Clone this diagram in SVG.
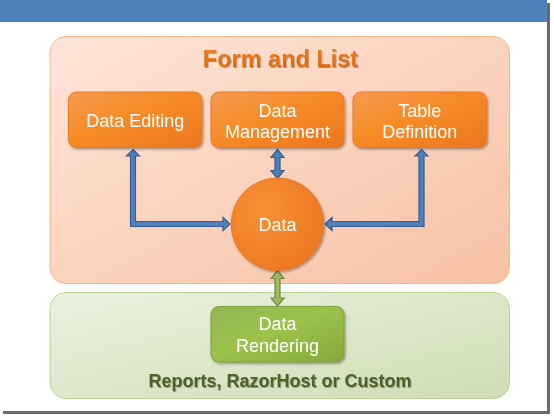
<svg xmlns="http://www.w3.org/2000/svg" width="554" height="416" viewBox="0 0 554 416">
<defs>
<linearGradient id="gPanelO" x1="0" y1="0" x2="1" y2="1">
<stop offset="0" stop-color="#FEE5D8"/>
<stop offset="1" stop-color="#F7C1A4"/>
</linearGradient>
<linearGradient id="gPanelG" x1="0" y1="0" x2="1" y2="1">
<stop offset="0" stop-color="#EAF2DF"/>
<stop offset="1" stop-color="#CEDDB4"/>
</linearGradient>
<linearGradient id="gBoxO" x1="0" y1="0" x2="1" y2="1">
<stop offset="0" stop-color="#F59A4E"/>
<stop offset="0.45" stop-color="#F68B26"/>
<stop offset="1" stop-color="#EC7620"/>
</linearGradient>
<linearGradient id="gBoxG" x1="0" y1="0" x2="1" y2="1">
<stop offset="0" stop-color="#93B655"/>
<stop offset="0.45" stop-color="#9BC24A"/>
<stop offset="1" stop-color="#86A93C"/>
</linearGradient>
<radialGradient id="gCircle" cx="0.35" cy="0.35" r="0.75">
<stop offset="0" stop-color="#F79137"/>
<stop offset="1" stop-color="#EC7620"/>
</radialGradient>
<linearGradient id="gTitle" x1="0" y1="0" x2="0" y2="1">
<stop offset="0" stop-color="#EE7F1E"/>
<stop offset="1" stop-color="#D8670C"/>
</linearGradient>
<filter id="fShadow" x="-10%" y="-10%" width="130%" height="130%">
<feDropShadow dx="1.2" dy="1.5" stdDeviation="1.2" flood-color="#000" flood-opacity="0.35"/>
</filter>
<filter id="fText" x="-5%" y="-20%" width="110%" height="150%">
<feDropShadow dx="0.8" dy="1" stdDeviation="0.6" flood-color="#000" flood-opacity="0.35"/>
</filter>
</defs>
<style>
.box{stroke-width:1}
.boxO{fill:url(#gBoxO);stroke:#E57A2B}
.boxG{fill:url(#gBoxG);stroke:#7E9F3C}
.lbl{font-family:"Liberation Sans",Arial,sans-serif;font-size:18px;fill:#FFFFFF;text-anchor:middle}
.ttl{font-family:"Liberation Sans",Arial,sans-serif;font-weight:bold;text-anchor:middle}
.arB{fill:#4F81BD;stroke:#385D8A;stroke-width:1.2;stroke-linejoin:miter}
.arG{fill:#9BBB59;stroke:#71893F;stroke-width:1.2;stroke-linejoin:miter}
</style>
<rect x="0" y="0" width="554" height="416" fill="#FFFFFF"/>
<rect x="3" y="3" width="547" height="411" fill="#6A6A6A"/>
<rect x="0" y="0" width="547" height="411" fill="#FFFFFF"/>
<rect x="0" y="0" width="547" height="22" fill="#4F81BD"/>

<g id="panel-form-and-list">
<rect x="50" y="36.5" width="459.5" height="247" rx="16" fill="url(#gPanelO)" stroke="#F8B98A" stroke-width="1"/>
<text class="ttl" x="280.5" y="66.5" font-size="23.5" fill="url(#gTitle)" filter="url(#fText)">Form and List</text>
</g>

<g id="panel-rendering">
<rect x="50" y="292.5" width="459.5" height="106" rx="16" fill="url(#gPanelG)" stroke="#BDD497" stroke-width="1"/>
<text class="ttl" x="280" y="386.5" font-size="18" fill="#4F6228" filter="url(#fText)">Reports, RazorHost or Custom</text>
</g>

<g id="connectors">
<polygon class="arB" points="133,149.5 139.5,156 135.5,156 135.5,221.5 223,221.5 223,217.5 230,224 223,230.5 223,226.5 130.5,226.5 130.5,156 126.5,156"/>
<polygon class="arB" points="421.5,149.5 428,156 424,156 424,226.5 332,226.5 332,230.5 325,224 332,217.5 332,221.5 419,221.5 419,156 415,156"/>
<polygon class="arB" points="277.5,149.5 284,157.5 280,157.5 280,170.5 284,170.5 277.5,178.5 271,170.5 275,170.5 275,157.5 271,157.5"/>
<polygon class="arG" points="277.5,270.5 284,278.5 280,278.5 280,298 284,298 277.5,306 271,298 275,298 275,278.5 271,278.5"/>
</g>

<g id="node-data-editing" filter="url(#fShadow)">
<rect class="box boxO" x="68.5" y="92" width="133.5" height="55.5" rx="8"/>
<text class="lbl" x="135.2" y="126.7">Data Editing</text>
</g>

<g id="node-data-management" filter="url(#fShadow)">
<rect class="box boxO" x="211" y="92" width="133" height="55.5" rx="8"/>
<text class="lbl" x="277.5" y="116.7">Data</text>
<text class="lbl" x="277.5" y="138.3">Management</text>
</g>

<g id="node-table-definition" filter="url(#fShadow)">
<rect class="box boxO" x="353" y="92" width="133.5" height="55.5" rx="8"/>
<text class="lbl" x="419.8" y="116.7">Table</text>
<text class="lbl" x="419.8" y="138.3">Definition</text>
</g>

<g id="node-data" filter="url(#fShadow)">
<circle cx="277.5" cy="224.2" r="46.3" fill="url(#gCircle)" stroke="#E57A2B" stroke-width="1"/>
<text class="lbl" x="277.5" y="230.7">Data</text>
</g>

<g id="node-data-rendering" filter="url(#fShadow)">
<rect class="box boxG" x="211" y="306.5" width="133" height="55.5" rx="8"/>
<text class="lbl" x="277.5" y="330">Data</text>
<text class="lbl" x="277.5" y="351.7">Rendering</text>
</g>
</svg>
